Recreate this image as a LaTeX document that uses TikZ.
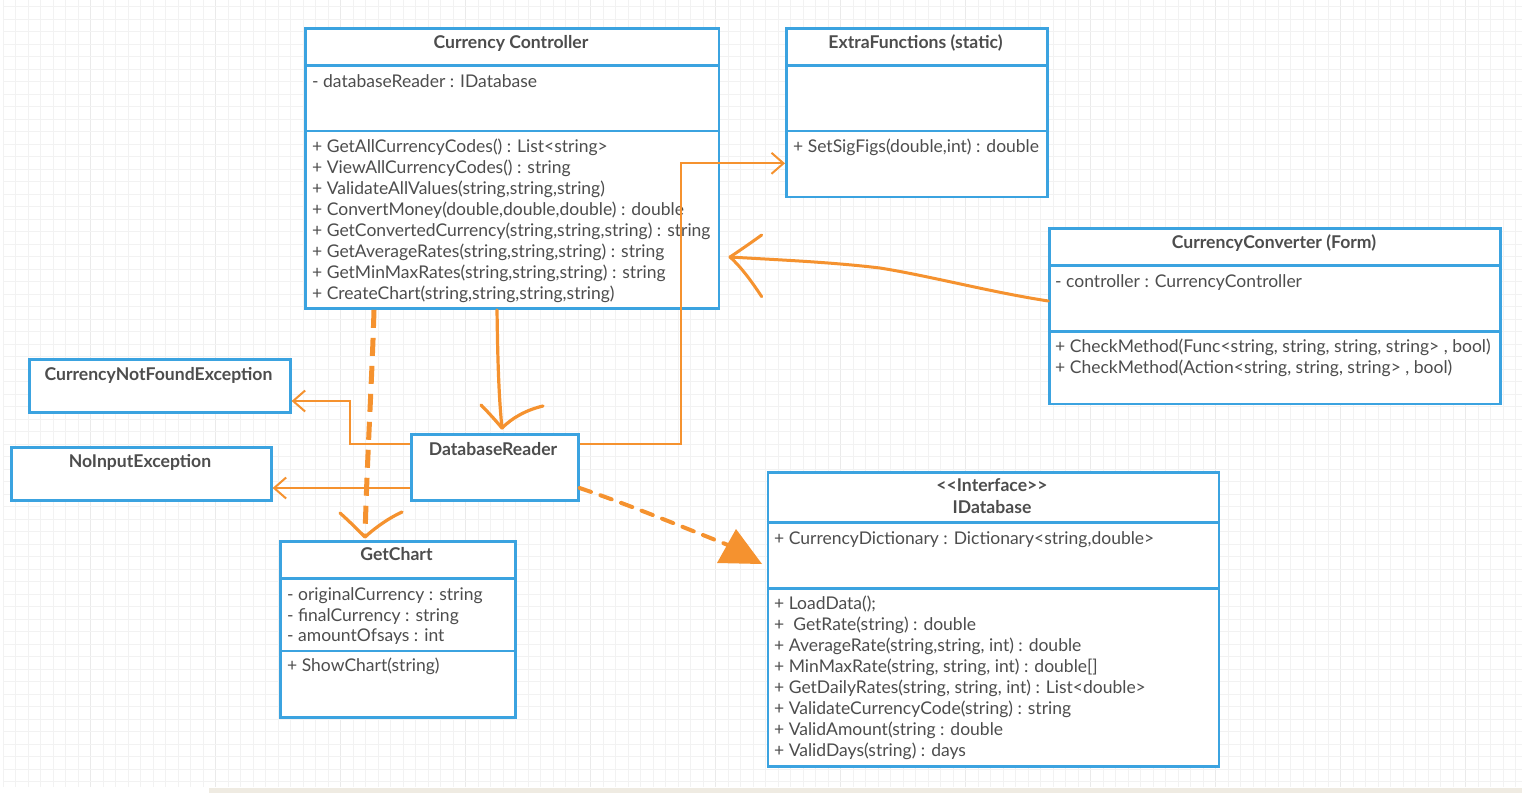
\documentclass[tikz,border=0pt]{standalone}
\usepackage{fontspec}
\setmainfont{Lato}
\usetikzlibrary{arrows.meta}

\definecolor{umlblue}{HTML}{3BA3E0}
\definecolor{umltext}{HTML}{4D4D4D}
\definecolor{linkorange}{HTML}{F5922F}
\definecolor{gridminor}{HTML}{F2F2F2}
\definecolor{gridmajor}{HTML}{EAEAEA}
\definecolor{sandbar}{HTML}{EFEBE2}

\tikzset{
  classbox/.style={draw=umlblue, line width=2.6pt, fill=white, anchor=north west, inner sep=0pt},
  divider/.style={draw=umlblue, line width=2.6pt},
  member/.style={anchor=base west, inner sep=0pt, text=umltext, font=\fontsize{17.5}{21}\selectfont},
  heading/.style={anchor=base, inner sep=0pt, text=umltext, font=\fontsize{17.6}{21}\selectfont\bfseries},
  link/.style={draw=linkorange, line width=2pt},
  barb/.style={-{Straight Barb[length=12pt,width=21pt,line width=2pt]}},
  sketch/.style={draw=linkorange, line width=3.2pt, line cap=round, line join=round},
}

\begin{document}
\begin{tikzpicture}[x=1pt,y=-1pt]
\useasboundingbox (0,0) rectangle (1526,796);
\fill[white] (0,0) rectangle (1526,796);

% drawing-canvas grid
\foreach \i in {0,...,121} {
  \pgfmathtruncatemacro{\m}{mod(\i,10)==7}
  \ifnum\m=1 \draw[gridmajor, line width=1pt] ({3+12.5*\i},0) -- ({3+12.5*\i},787);
  \else \draw[gridminor, line width=1pt] ({3+12.5*\i},0) -- ({3+12.5*\i},787); \fi
}
\foreach \j in {0,...,62} {
  \draw[gridminor, line width=1pt] (3,{6.7+12.5*\j}) -- (1522,{6.7+12.5*\j});
}
\fill[white] (0,787) rectangle (1526,796);
\fill[sandbar] (209,788) rectangle (1522,793);

% ---------------- Currency Controller ----------------
\node[classbox, minimum width=413.5pt, minimum height=280pt] (ctrl) at (304,27.3) {};
\draw[divider] (304,65.5) -- (717.5,65.5);
\draw[divider] (304,131) -- (717.5,131);
\node[heading] (ctrlT) at (511,48.5) {Currency Controller};
\node[member] (ctrlA) at (312,87) {- databaseReader : IDatabase};
\foreach \t [count=\k] in {
  {+ GetAllCurrencyCodes() : List<string>},
  {+ ViewAllCurrencyCodes() : string},
  {+ ValidateAllValues(string,string,string)},
  {+ ConvertMoney(double,double,double) : double},
  {+ GetConvertedCurrency(string,string,string) : string},
  {+ GetAverageRates(string,string,string) : string},
  {+ GetMinMaxRates(string,string,string) : string},
  {+ CreateChart(string,string,string,string)}}
  \node[member] (ctrlM\k) at (312,{152.5+21*(\k-1)}) {\t};

% ---------------- ExtraFunctions ----------------
\node[classbox, minimum width=261pt, minimum height=168.4pt] (xf) at (785,27.3) {};
\draw[divider] (785,65.7) -- (1046,65.7);
\draw[divider] (785,131) -- (1046,131);
\node[heading] (xfT) at (915.5,48.5) {ExtraFunctions (static)};
\node[member] (xfM) at (793,152) {+ SetSigFigs(double,int) : double};

% ---------------- CurrencyConverter (Form) ----------------
\node[classbox, minimum width=451pt, minimum height=175.4pt] (form) at (1048.3,227.3) {};
\draw[divider] (1048.3,265.7) -- (1499.3,265.7);
\draw[divider] (1048.3,331.7) -- (1499.3,331.7);
\node[heading] (formT) at (1274,248.5) {CurrencyConverter (Form)};
\node[member] (formA) at (1055,287) {- controller : CurrencyController};
\node[member] (formM1) at (1055,352) {+ CheckMethod(Func<string, string, string, string> , bool)};
\node[member] (formM2) at (1055,373) {+ CheckMethod(Action<string, string, string> , bool)};

% ---------------- exceptions and reader ----------------
\node[classbox, minimum width=261pt, minimum height=53pt] (cnf) at (28,358) {};
\node[heading] (cnfT) at (158.5,380.5) {CurrencyNotFoundException};
\node[classbox, minimum width=260pt, minimum height=53pt] (nie) at (10,446) {};
\node[heading] (nieT) at (140,467.5) {NoInputException};
\node[classbox, minimum width=167pt, minimum height=66pt] (dbr) at (410,433) {};
\node[heading] (dbrT) at (493,455.5) {DatabaseReader};

% ---------------- GetChart ----------------
\node[classbox, minimum width=235pt, minimum height=176pt] (gc) at (279.3,540) {};
\draw[divider] (279.3,578.3) -- (514.3,578.3);
\draw[divider] (279.3,651) -- (514.3,651);
\node[heading] (gcT) at (396.5,560.7) {GetChart};
\node[member] (gcA1) at (287,600) {- originalCurrency : string};
\node[member] (gcA2) at (287,621) {- finalCurrency : string};
\node[member] (gcA3) at (287,641) {- amountOfsays : int};
\node[member] (gcM) at (287,671.7) {+ ShowChart(string)};

% ---------------- IDatabase ----------------
\node[classbox, minimum width=451pt, minimum height=294pt] (idb) at (766.7,471) {};
\draw[divider] (766.7,522.7) -- (1217.7,522.7);
\draw[divider] (766.7,588.3) -- (1217.7,588.3);
\node[heading] (idbS) at (992,491.7) {<{}<Interface>{}>};
\node[heading] (idbT) at (992,513.3) {IDatabase};
\node[member] (idbA) at (774,544.3) {+ CurrencyDictionary : Dictionary<string,double>};
\foreach \t [count=\k] in {
  {+ LoadData();},
  {+\ \ GetRate(string) : double},
  {+ AverageRate(string,string, int) : double},
  {+ MinMaxRate(string, string, int) : double[]},
  {+ GetDailyRates(string, string, int) : List<double>},
  {+ ValidateCurrencyCode(string) : string},
  {+ ValidAmount(string : double},
  {+ ValidDays(string) : days}}
  \node[member] (idbM\k) at (774,{609.5+21*(\k-1)}) {\t};

% ---------------- orthogonal connectors from DatabaseReader ----------------
\draw[link, barb] (dbr.east |- 0,444) -- (680.7,444) -- (680.7,163.3) -- (xf.west |- 0,163.3);
\draw[link, barb] (dbr.west |- 0,444) -- (350,444) -- (350,401) -- (cnf.east |- 0,401);
\draw[link, barb] (dbr.west |- 0,488) -- (nie.east |- 0,488);

% ---------------- hand-drawn connectors ----------------
% controller -> reader
\coordinate (tipD) at (502,428);
\draw[sketch] (ctrl.south -| 497,0) .. controls (497.5,340) and (498,390) .. (tipD);
\draw[sketch] (tipD) .. controls (496,421) and (489,413) .. (481,405);
\draw[sketch] (tipD) .. controls (512,418) and (526,410) .. (543,406);

% controller -> chart (dashed)
\coordinate (tipE) at (365,537);
\draw[sketch, line width=5pt, line cap=butt, dash pattern=on 18pt off 10pt]
  (ctrl.south -| 374,0) .. controls (372,380) and (367,460) .. (tipE);
\draw[sketch] (tipE) .. controls (358,530) and (349,521) .. (340,513);
\draw[sketch] (tipE) .. controls (376,527) and (389,518) .. (402,512);

% reader -> interface (dashed, filled head)
\coordinate (tipF) at (733,547);
\draw[sketch, line width=4pt, line cap=round, dash pattern=on 12pt off 10pt]
  (dbr.east |- 0,488) .. controls (630,505) and (690,530) .. (tipF);
\fill[linkorange] (717,563) -- (736,529) -- (762,564) -- cycle;

% form -> controller
\coordinate (tipG) at (730,257);
\draw[sketch, line width=3pt] (form.west |- 0,301)
  .. controls (990,292) and (930,276) .. (880,268)
  .. controls (830,262) and (780,260) .. (tipG);
\draw[sketch, line width=3pt] (tipG) .. controls (742,249) and (752,242) .. (761.7,235);
\draw[sketch, line width=3pt] (tipG) .. controls (742,268) and (752,282) .. (761.7,296.7);

\end{tikzpicture}
\end{document}
